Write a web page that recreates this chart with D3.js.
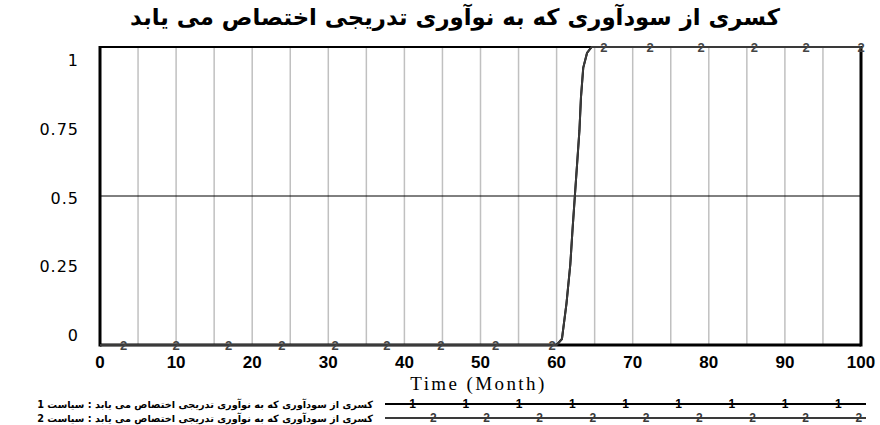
<!DOCTYPE html>
<html><head><meta charset="utf-8">
<script src="https://cdn.jsdelivr.net/npm/d3@7"></script>
<style>body{margin:0;background:#fff}svg{display:block}</style>
</head><body>
<svg id="c" width="880" height="425"></svg>
<script>
const titleText = "کسری از سودآوری که به نوآوری تدریجی اختصاص می یابد";
const xLabel = "Time (Month)";
const legendLabels = [
  "کسری از سودآوری که به نوآوری تدریجی اختصاص می یابد : سیاست 1",
  "کسری از سودآوری که به نوآوری تدریجی اختصاص می یابد : سیاست 2"
];
const seriesIds = ["1", "2"];
const time = [0, 60, 60.7, 61.3, 61.8, 62.1, 62.4, 62.7, 63.0, 63.2, 63.5, 64.0, 64.6, 100];
const policy1 = [0, 0, 0.02, 0.14, 0.27, 0.39, 0.5, 0.61, 0.72, 0.83, 0.93, 0.98, 1, 1];
const policy2 = [0, 0, 0.02, 0.14, 0.27, 0.39, 0.5, 0.61, 0.72, 0.83, 0.93, 0.98, 1, 1];
const markerTimes2 = [3.1, 10, 16.9, 23.9, 30.9, 37.7, 44.8, 52, 59.4, 66.2, 72.3, 79, 86, 92.8, 100];
const xTicks = [0, 10, 20, 30, 40, 50, 60, 70, 80, 90, 100];
const xGrid = [5, 10, 15, 20, 25, 30, 35, 40, 45, 50, 55, 60, 65, 70, 75, 80, 85, 90, 95];
const yTicks = [0, 0.25, 0.5, 0.75, 1];
const yTickLabels = ["0", "0.25", "0.5", "0.75", "1"];

const svg = d3.select("#c");
const L = 100, R = 861, T = 47, B = 345;
const x = d3.scaleLinear().domain([0, 100]).range([L, R]);
const y = d3.scaleLinear().domain([0, 1]).range([B, T]);
const yLab = d3.scaleLinear().domain([0, 1]).range([335, 60]);

function fit(sel, target) {
  const n = sel.node();
  const fs = parseFloat(sel.attr("font-size"));
  const w = n.getComputedTextLength();
  sel.attr("font-size", (fs * target / w).toFixed(2));
}

// title
const title = svg.append("text").attr("x", (130 + 780) / 2).attr("y", 25)
  .attr("text-anchor", "middle").attr("direction", "rtl")
  .attr("font-family", "DejaVu Sans").attr("font-weight", "bold").attr("font-size", 17)
  .attr("fill", "#000").text(titleText);
fit(title, 650);

// gridlines
svg.append("g").selectAll("line").data(xGrid).join("line")
  .attr("x1", d => x(d)).attr("x2", d => x(d)).attr("y1", T).attr("y2", B)
  .attr("stroke", "#c0c0c0").attr("stroke-width", 1.5);
svg.append("line").attr("x1", L).attr("x2", R).attr("y1", y(0.5)).attr("y2", y(0.5))
  .attr("stroke", "#000").attr("stroke-width", 1);

// frame
svg.append("line").attr("x1", L).attr("x2", R).attr("y1", T).attr("y2", T).attr("stroke", "#000").attr("stroke-width", 2);
svg.append("line").attr("x1", L).attr("x2", R).attr("y1", B).attr("y2", B).attr("stroke", "#000").attr("stroke-width", 3);
svg.append("line").attr("x1", L).attr("x2", L).attr("y1", T - 1).attr("y2", B + 1.5).attr("stroke", "#000").attr("stroke-width", 3);
svg.append("line").attr("x1", R).attr("x2", R).attr("y1", T - 1).attr("y2", B + 1.5).attr("stroke", "#000").attr("stroke-width", 3);

// series
const line = d3.line().x(d => x(d[0])).y(d => y(d[1]));
const s1 = time.map((t, i) => [t, policy1[i]]);
const s2 = time.map((t, i) => [t, policy2[i]]);
svg.append("path").attr("d", line(s1)).attr("fill", "none").attr("stroke", "#000").attr("stroke-width", 2);
svg.append("path").attr("d", line(s2)).attr("fill", "none").attr("stroke", "#3a3a3a").attr("stroke-width", 2);

function interp(series, t) {
  for (let i = 1; i < series.length; i++) {
    if (t <= series[i][0]) {
      const a = series[i - 1], b = series[i];
      return a[1] + (b[1] - a[1]) * (t - a[0]) / (b[0] - a[0]);
    }
  }
  return series[series.length - 1][1];
}
svg.append("g").selectAll("text").data(markerTimes2).join("text")
  .attr("x", d => x(d)).attr("y", d => y(interp(s2, d)) + 5)
  .attr("text-anchor", "middle").attr("font-family", "Liberation Sans")
  .attr("font-size", 13).attr("font-weight", "bold").attr("fill", "#444").text(seriesIds[1]);

// y labels
svg.append("g").selectAll("text").data(yTicks).join("text")
  .attr("x", 79).attr("y", d => yLab(d) + 6).attr("text-anchor", "end")
  .attr("font-family", "DejaVu Sans").attr("font-size", 16).attr("letter-spacing", 1)
  .attr("fill", "#000").text((d, i) => yTickLabels[i]);

// x labels
svg.append("g").selectAll("text").data(xTicks).join("text")
  .attr("x", d => x(d)).attr("y", 368).attr("text-anchor", "middle")
  .attr("font-family", "Liberation Sans").attr("font-size", 17).attr("font-weight", "bold")
  .attr("fill", "#000").text(d => d);

svg.append("text").attr("x", (L + R) / 2 - 2).attr("y", 390).attr("text-anchor", "middle")
  .attr("font-family", "Liberation Serif").attr("font-size", 19).attr("letter-spacing", 2.4)
  .attr("fill", "#000").text(xLabel);

// legend
const legY = [404, 418];
const legColors = ["#000", "#3a3a3a"];
const legStart = [412.7, 433.3];
const lx0 = 385, lx1 = 866, step = 53.2;
legY.forEach((ly, k) => {
  const t = svg.append("text").attr("x", 373).attr("y", ly + 4).attr("direction", "rtl")
    .attr("text-anchor", "start").attr("font-family", "DejaVu Sans").attr("font-weight", "bold")
    .attr("font-size", 9).attr("fill", "#000").text(legendLabels[k]);
  fit(t, 336);
  svg.append("line").attr("x1", lx0).attr("x2", lx1).attr("y1", ly).attr("y2", ly)
    .attr("stroke", legColors[k]).attr("stroke-width", 2);
  svg.append("g").selectAll("text").data(d3.range(9)).join("text")
    .attr("x", i => legStart[k] + i * step).attr("y", ly + 4).attr("text-anchor", "middle")
    .attr("font-family", "Liberation Sans").attr("font-size", 12).attr("font-weight", "bold")
    .attr("fill", legColors[k]).text(seriesIds[k]);
});
</script>
</body></html>
